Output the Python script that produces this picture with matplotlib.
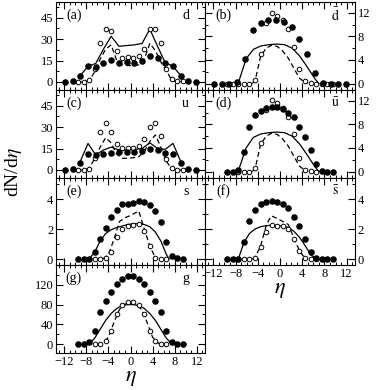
import matplotlib
matplotlib.use('Agg')
import matplotlib.pyplot as plt
import matplotlib.ticker as ticker
import numpy as np

plt.rcParams['font.family'] = ['Liberation Serif', 'DejaVu Serif']
plt.rcParams['mathtext.fontset'] = 'stix'

# eta grids
eta14 = np.arange(-11.9, 12.0, 1.4)      # 18 bins, spacing 1.4
eta10 = np.arange(-9.5, 9.6, 1.0)        # 20 bins, spacing 1.0

# (a) d
a_full_x = eta14
a_full = [0, 0.7, 4.5, 11, 10.7, 13, 15.2, 13.3, 13.7, 13.5, 14.7, 18.2, 17, 13.5, 11, 4.5, 0.7, 0]
a_open_x = eta10
a_open = [0, 0, 1.2, 9, 27, 37.4, 36, 22, 16.6, 17.3, 16.6, 18.2, 23.2, 37.2, 37.4, 27, 8.8, 1.9, 0.5, 0.5]
a_sol_x = [-9.1, -7.7, -6.3, -4.9, -3.5, -2.1, -0.7, 0.7, 2.1, 3.5, 4.9, 6.3, 7.7, 9.1]
a_sol = [4.5, 11, 13, 23, 32, 25, 25.5, 26, 27, 37, 25, 13.5, 11, 4.5]
a_dash_x = eta10
a_dash = [0, 0, 1, 7, 16, 23, 26, 15, 12, 11.5, 11.5, 12, 16, 27, 22, 14, 8, 1, 0, 0]

# (b) dbar
b_full_x = eta14
b_full = [0, 0, 0, 0.3, 4.2, 9.05, 10.3, 10.75, 10.75, 10.5, 9.6, 7.6, 5.1, 1.8, 0.1, 0, 0, 0]
b_open_x = eta10
b_open = [0, 0, 0, 0, 0, 0.6, 5.0, 10.2, 12, 11.5, 10.75, 9.2, 6.2, 2.4, 0.4, 0.1, 0, 0, 0, 0]
b_sol_x = [-8.0, -7.4, -6.1, -4.8, -3.4, -2.0, -0.6, 0.8, 2.2, 3.6, 4.9, 6.3, 7.0]
b_sol = [0, 0.4, 4.2, 5.8, 6.4, 6.6, 6.7, 6.6, 6.0, 4.6, 2.8, 0.8, 0]
b_dash_x = [-5.0, -4.5, -3.5, -2.5, -1.5, -0.5, 0.5, 1.5, 2.5, 3.5, 4.5, 5.0]
b_dash = [0, 0.4, 4.6, 6.0, 6.5, 6.3, 5.5, 4.3, 2.6, 0.9, 0.2, 0]

# (c) u
c_full_x = eta14
c_full = [0, 0.5, 5.1, 11.2, 10.7, 11.2, 12.1, 12.6, 12.8, 12.8, 13.5, 14.5, 14, 12.1, 11.2, 5.1, 0.5, 0]
c_open_x = eta10
c_open = [0, 0, 0.7, 8.2, 26.3, 32.6, 26.8, 18.2, 15.2, 15.2, 15.6, 16.8, 21.4, 30.3, 32.6, 24, 7.5, 1.2, 0, 0]
c_sol_x = a_sol_x
c_sol = [6, 18.6, 10.5, 14, 16, 14, 14, 14.5, 15, 19, 15, 14.5, 18.6, 6]
c_dash_x = eta10
c_dash = [0, 0, 1, 8, 16, 22.6, 19, 11, 8.2, 8.2, 8.6, 9.3, 13, 20, 24.5, 16, 6, 0.7, 0, 0]

# (d) ubar
d_full_x = eta10
d_full = [0, 0, 0.3, 3.3, 7.5, 9.6, 10.2, 10.75, 10.9, 10.9, 10.6, 10.0, 9.2, 7.5, 5.8, 3.7, 1.3, 0.1, 0, 0]
d_open_x = eta10[2:17]
d_open = [0, 0, 0, 0.6, 4.9, 10.5, 12.2, 11.6, 10.8, 9.3, 6.3, 2.3, 0.3, 0.1, 0]
d_sol_x = b_sol_x
d_sol = [0, 0.4, 4.0, 5.8, 6.4, 6.6, 6.7, 6.6, 6.0, 4.6, 2.8, 0.8, 0]
d_dash_x = b_dash_x
d_dash = [0, 0.4, 4.6, 6.0, 6.5, 6.3, 5.5, 4.3, 2.6, 0.9, 0.2, 0]

# (e) s
e_full_x = eta10
e_full = [0, 0, 0, 0.49, 1.33, 2.07, 2.8, 3.29, 3.67, 3.67, 3.73, 3.84, 3.8, 3.62, 3.22, 2.5, 1.13, 0.2, 0.07, 0]
e_open_x = eta10[3:17]
e_open = [0, 0, 0.05, 0.5, 1.45, 1.98, 2.2, 2.3, 2.35, 1.85, 0.85, 0.1, 0, 0]
e_sol_x = [-7.5, -6.5, -5.5, -4.5, -3.5, -2.5, -1.5, -0.5, 0.5, 1.5, 2.5, 3.5, 4.5, 5.5, 6.5, 7.0]
e_sol = [0, 0.45, 1.2, 1.7, 1.95, 2.1, 2.2, 2.3, 2.35, 2.35, 2.3, 2.15, 1.8, 1.2, 0.3, 0]
e_dash_x = [-5.0, -4.0, -3.0, -2.0, -1.0, 0.0, 1.0, 1.5, 2.5, 3.5, 4.5, 5.0]
e_dash = [0, 0.3, 1.3, 2.5, 2.75, 2.9, 3.1, 3.2, 2.0, 0.85, 0.1, 0]

# (f) sbar
f_full_x = eta10
f_full = [0, 0, 0, 1.13, 2.53, 3.25, 3.7, 3.82, 3.89, 3.77, 3.7, 3.43, 2.8, 2.19, 1.33, 0.5, 0.05, 0, 0, 0]
f_open_x = eta10[2:17]
f_open = [0, 0, 0, 0.1, 0.8, 1.8, 2.24, 2.2, 2.2, 1.97, 1.33, 0.54, 0.05, 0, 0]
f_sol_x = [-7.5, -6.5, -5.5, -4.5, -3.5, -2.5, -1.5, -0.5, 0.5, 1.5, 2.5, 3.5, 4.5, 5.5, 6.5, 7.0]
f_sol = [0, 1.1, 1.7, 2.0, 2.15, 2.22, 2.25, 2.24, 2.2, 2.1, 1.85, 1.45, 0.9, 0.3, 0.02, 0]
f_dash_x = [-5.0, -4.5, -3.5, -2.5, -2.0, -1.5, -0.5, 0.5, 1.5, 2.5, 3.5, 4.5, 5.0]
f_dash = [0, 0.1, 0.85, 2.2, 2.6, 2.87, 2.7, 2.5, 2.3, 1.4, 0.55, 0.05, 0]

# (g) gluon
g_full_x = eta10
g_full = [0, 0, 4.7, 27, 64, 87.5, 106, 122, 131.5, 137, 137, 131.5, 122, 106, 87.5, 64, 27, 4.7, 0, 0]
g_open_x = eta10[3:17]
g_open = [0, 0, 6, 27, 60, 79, 85, 85, 79, 60, 27, 6, 0, 0]
g_sol_x = [-7.5, -6.5, -5.5, -4.5, -3.5, -2.5, -1.5, -0.5, 0.5, 1.5, 2.5, 3.5, 4.5, 5.5, 6.5, 7.5]
g_sol = [0, 12, 30, 48, 62, 72, 78, 80, 80, 78, 72, 62, 48, 30, 12, 0]
g_dash_x = [-6.0, -5.0, -4.0, -3.0, -2.0, -1.0, 0.0, 1.0, 2.0, 3.0, 4.0, 5.0, 6.0]
g_dash = [0, 2, 14, 44, 70, 81, 83, 81, 70, 44, 14, 2, 0]

panels = [
    ('(a)', 'd', a_full_x, a_full, a_open_x, a_open, a_sol_x, a_sol, a_dash_x, a_dash, (-5.6, 56), [0, 15, 30, 45], 7.5),
    ('(b)', r'$\bar{\mathrm{d}}$', b_full_x, b_full, b_open_x, b_open, b_sol_x, b_sol, b_dash_x, b_dash, (-1.1, 13.85), [0, 4, 8, 12], 2),
    ('(c)', 'u', c_full_x, c_full, c_open_x, c_open, c_sol_x, c_sol, c_dash_x, c_dash, (-5.6, 56), [0, 15, 30, 45], 7.5),
    ('(d)', r'$\bar{\mathrm{u}}$', d_full_x, d_full, d_open_x, d_open, d_sol_x, d_sol, d_dash_x, d_dash, (-1.1, 13.85), [0, 4, 8, 12], 2),
    ('(e)', 's', e_full_x, e_full, e_open_x, e_open, e_sol_x, e_sol, e_dash_x, e_dash, (-0.4, 5.4), [0, 2, 4], 1),
    ('(f)', r'$\bar{\mathrm{s}}$', f_full_x, f_full, f_open_x, f_open, f_sol_x, f_sol, f_dash_x, f_dash, (-0.4, 5.4), [0, 2, 4], 1),
    ('(g)', 'g', g_full_x, g_full, g_open_x, g_open, g_sol_x, g_sol, g_dash_x, g_dash, (-18, 160), [0, 40, 80, 120], 20),
]

W, H = 382, 390
fig = plt.figure(figsize=(W / 100, H / 100), dpi=100)

col_x = [56, 205]
col_w = [149, 150]
row_y = [2, 90, 178, 265]
row_h = [88, 88, 87, 88]

for i, (tag, name, fx, fy, ox, oy, sx, sy, dx, dy, ylim, yt, ymin) in enumerate(panels):
    r, c = divmod(i, 2)
    ax = fig.add_axes([col_x[c] / W, 1 - (row_y[r] + row_h[r]) / H, col_w[c] / W, row_h[r] / H])
    ax.plot(sx, sy, '-', color='black', lw=0.9)
    ax.plot(dx, dy, '--', color='black', lw=0.9, dashes=(4, 2.5))
    ax.plot(ox, oy, 'o', mfc='white', mec='black', ms=3.3, mew=0.7)
    ax.plot(fx, fy, 'o', color='black', ms=3.7)
    ax.set_xlim(-13.5, 13.5)
    ax.set_ylim(*ylim)
    ax.set_yticks(yt)
    ax.xaxis.set_major_locator(ticker.MultipleLocator(4))
    ax.xaxis.set_minor_locator(ticker.MultipleLocator(1))
    ax.yaxis.set_minor_locator(ticker.MultipleLocator(ymin))
    ax.tick_params(which='both', direction='in', top=True, right=True, labelsize=9, pad=2)
    ax.tick_params(which='major', length=5, width=0.8)
    ax.tick_params(which='minor', length=2.5, width=0.7)
    if c == 1:
        ax.tick_params(labelleft=False, labelright=True)
    bottom = (c == 0 and r == 3) or (c == 1 and r == 2)
    if not bottom:
        ax.tick_params(labelbottom=False)
    else:
        ax.set_xlabel(r'$\eta$', fontsize=16, labelpad=1)
    for s in ax.spines.values():
        s.set_linewidth(0.8)
    ax.text(0.12, 0.85, tag, transform=ax.transAxes, fontsize=10, va='center', ha='center')
    ax.text(0.87, 0.85, name, transform=ax.transAxes, fontsize=10, va='center', ha='center')

fig.text(14 / W, 1 - 172 / H, r'dN/d$\eta$', rotation=90, fontsize=14, ha='center', va='center')

fig.savefig('out.png', dpi=100)
plt.close()
